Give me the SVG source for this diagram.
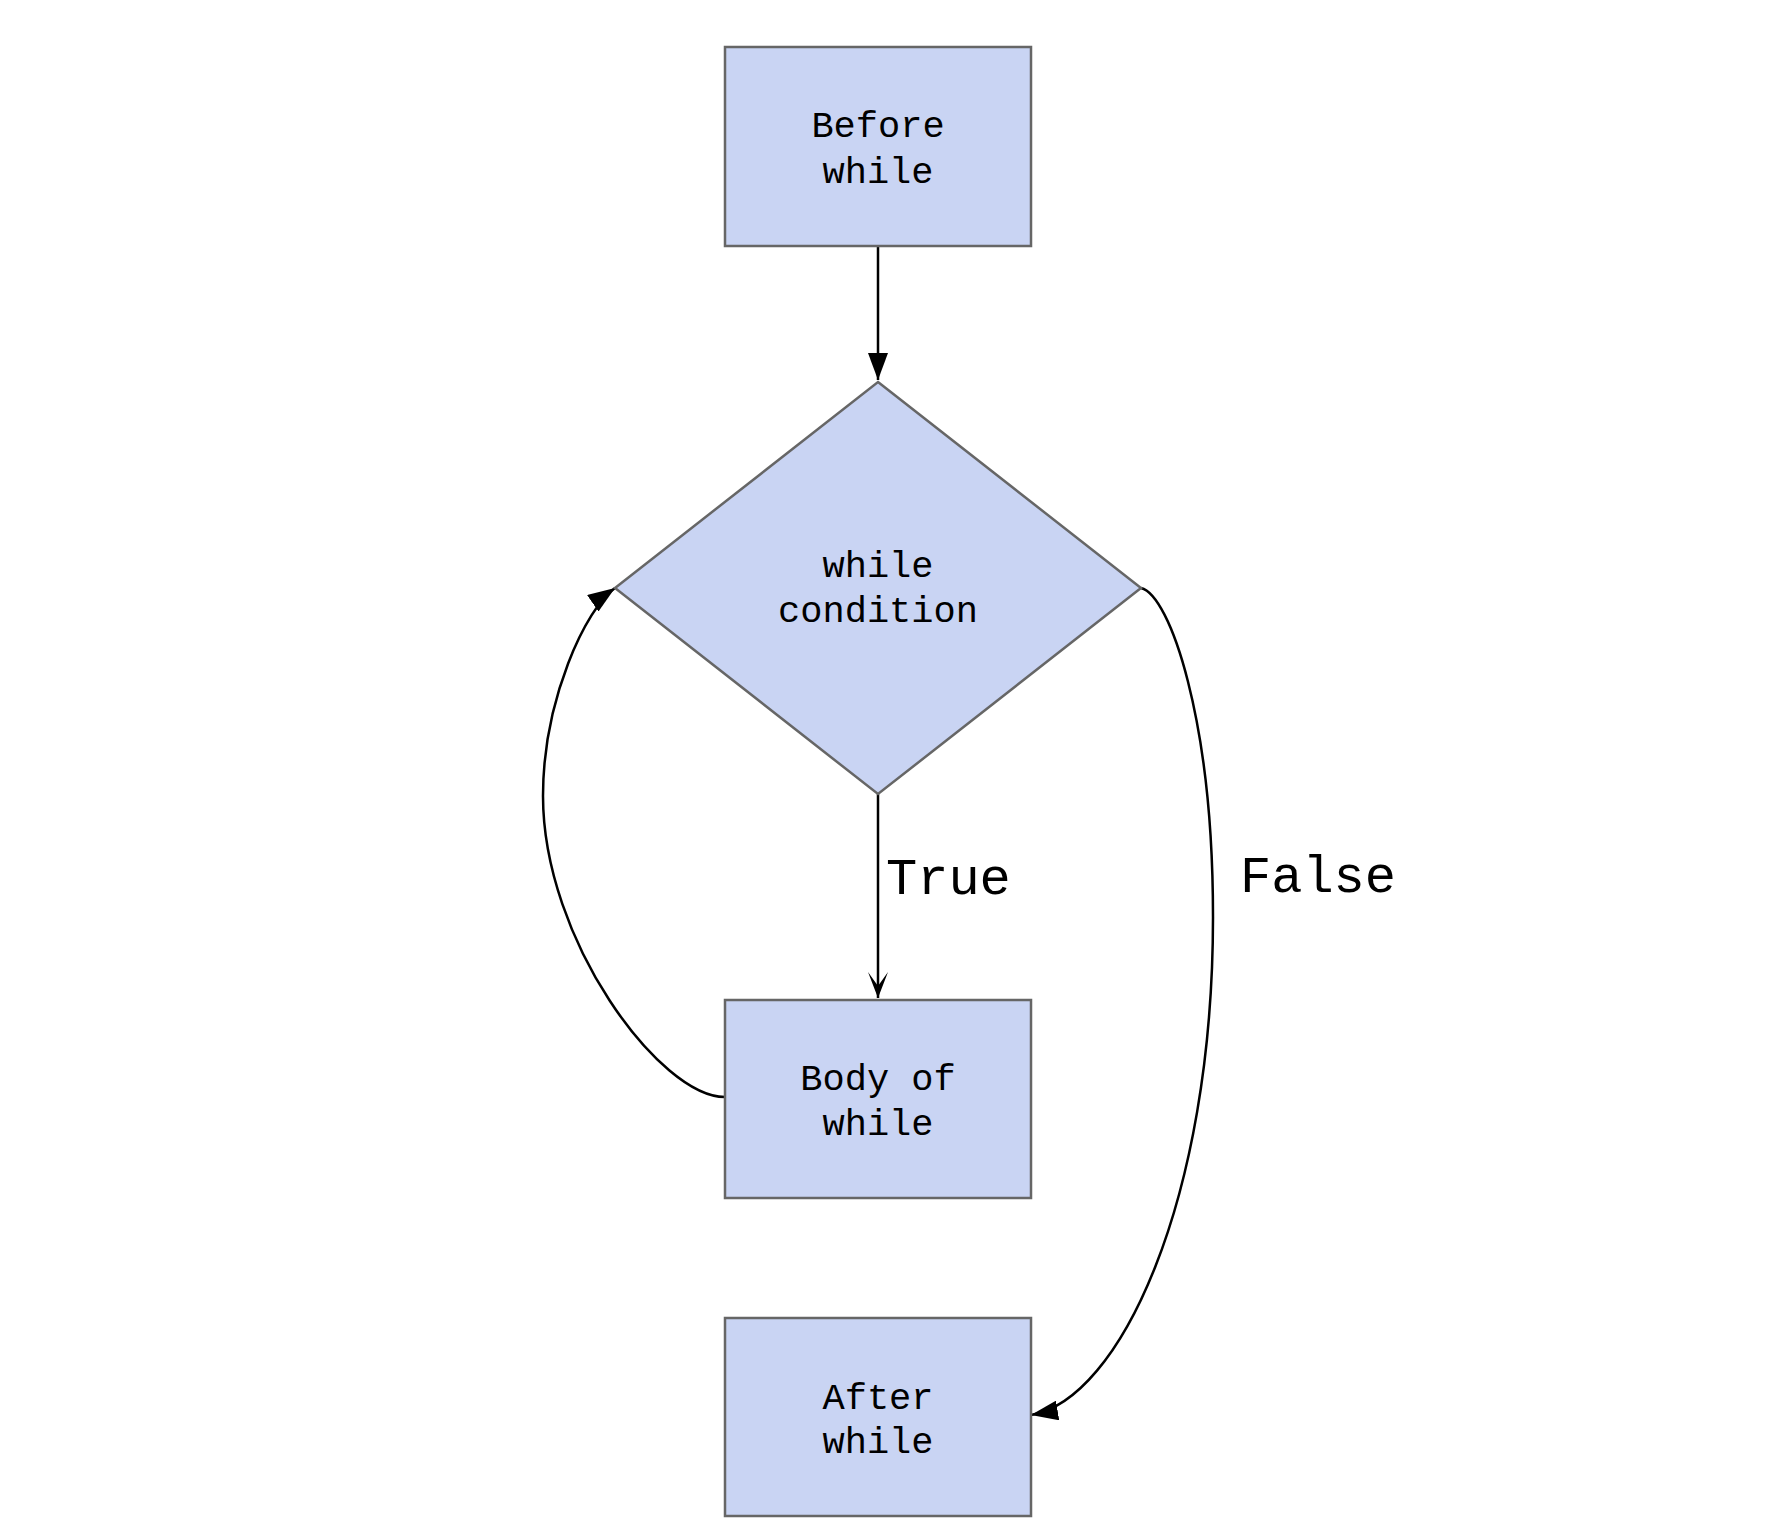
<svg xmlns="http://www.w3.org/2000/svg" width="1776" height="1534" viewBox="0 0 1776 1534">
  <style>
    .node { fill: #c9d4f3; stroke: #666666; stroke-width: 2.5; }
    .lbl { font-family: "Liberation Mono", "DejaVu Sans Mono", monospace; font-size: 37px; fill: #000; text-anchor: middle; }
    .edge { fill: none; stroke: #000; stroke-width: 2.5; }
    .elbl { font-family: "Liberation Mono", "DejaVu Sans Mono", monospace; font-size: 52px; fill: #000; }
  </style>
  <defs>
    <marker id="tri" markerUnits="userSpaceOnUse" markerWidth="27" markerHeight="20" refX="27" refY="10" orient="auto" viewBox="0 0 27 20">
      <path d="M0,0 L27,10 L0,20 Z" fill="#000"/>
    </marker>
    <marker id="stealth" markerUnits="userSpaceOnUse" markerWidth="26" markerHeight="20" refX="26" refY="10" orient="auto" viewBox="0 0 26 20">
      <path d="M0,0 L26,10 L0,20 L14,10 Z" fill="#000"/>
    </marker>
  </defs>
  <rect width="1776" height="1534" fill="#ffffff"/>

  <g id="connectors">
    <path class="edge" d="M878,246 L878,380" marker-end="url(#tri)"/>
    <path class="edge" d="M878,794 L878,998" marker-end="url(#stealth)"/>
    <path class="edge" d="M725,1097 C660,1097 543,940 543,796 C543,700 586,608 615,588" marker-end="url(#tri)"/>
    <path class="edge" d="M1141,588 C1170,595 1213,720 1213,917 C1213,1200 1120,1400 1031,1415" marker-end="url(#tri)"/>
    <text class="elbl" x="886" y="894">True</text>
    <text class="elbl" x="1240" y="892">False</text>
  </g>

  <g id="before">
    <rect class="node" x="725" y="47" width="306" height="199"/>
    <text class="lbl" x="878" y="137">Before</text>
    <text class="lbl" x="878" y="183">while</text>
  </g>

  <g id="condition">
    <polygon class="node" points="878,382 1141,588 878,794 615,588"/>
    <text class="lbl" x="878" y="577">while</text>
    <text class="lbl" x="878" y="622">condition</text>
  </g>

  <g id="body">
    <rect class="node" x="725" y="1000" width="306" height="198"/>
    <text class="lbl" x="878" y="1090">Body of</text>
    <text class="lbl" x="878" y="1135">while</text>
  </g>

  <g id="after">
    <rect class="node" x="725" y="1318" width="306" height="198"/>
    <text class="lbl" x="878" y="1409">After</text>
    <text class="lbl" x="878" y="1453">while</text>
  </g>
</svg>
